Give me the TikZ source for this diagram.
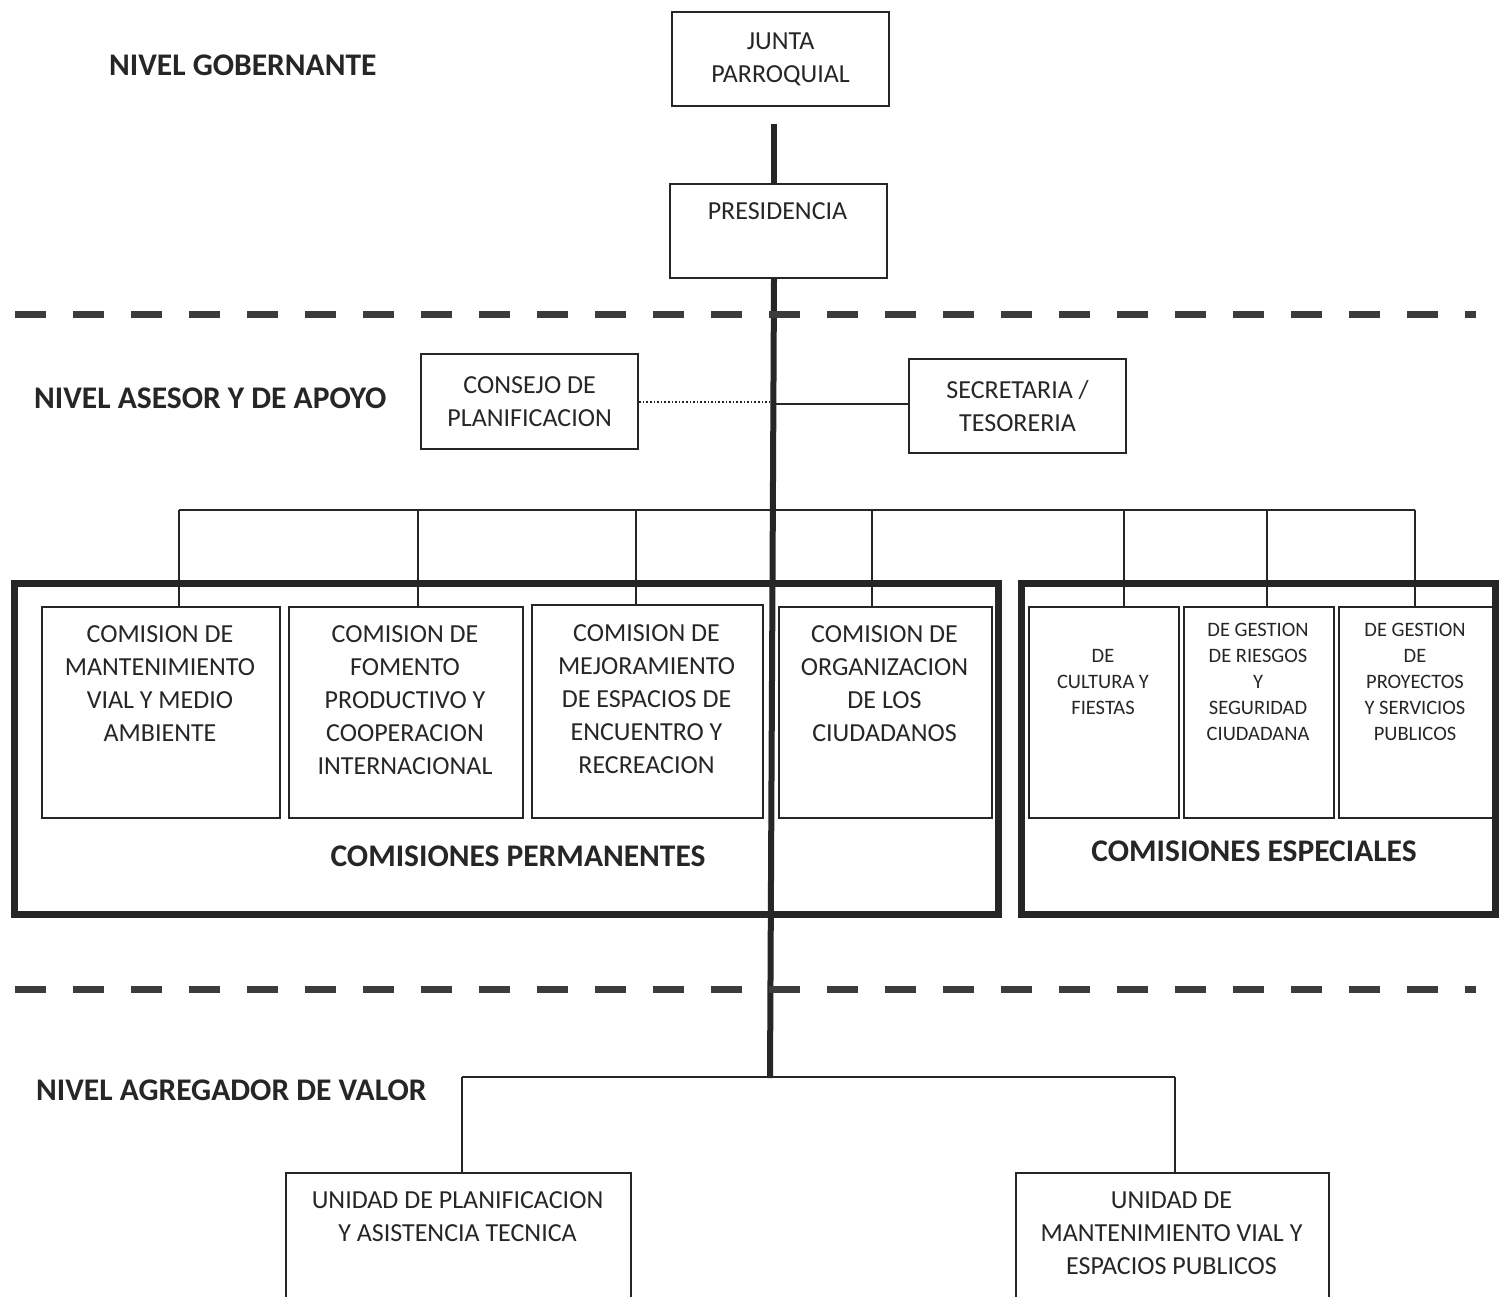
\documentclass[tikz,border=0pt]{standalone}
\usepackage{fontspec}
\setmainfont{Carlito}
\definecolor{ink}{HTML}{262626}
\definecolor{dashc}{HTML}{3C3C3C}
\begin{document}
\begin{tikzpicture}[x=1pt,y=-1pt,
  box/.style={draw=ink, line width=2.2pt, inner sep=0pt, anchor=north west},
  frame/.style={draw=ink, line width=7pt, inner sep=0pt, anchor=north west},
  txt/.style={font=\fontsize{26}{33}\selectfont, align=center, inner sep=0pt, text=ink},
  stxt/.style={font=\fontsize{20.5}{26}\selectfont, align=center, inner sep=0pt, text=ink},
  lvl/.style={font=\fontsize{31.5}{36}\selectfont\bfseries, inner sep=0pt, text=ink, anchor=west},
  thin/.style={draw=ink, line width=2pt},
  mainline/.style={draw=ink, line width=6pt},
  dashline/.style={draw=dashc, line width=7pt, dash pattern=on 31pt off 27pt}]
\useasboundingbox (0,0) rectangle (1503,1297);
\clip (0,0) rectangle (1503,1297);
\fill[white] (0,0) rectangle (1503,1297);

% level labels
\node[lvl] (lg) at (109,65) {NIVEL GOBERNANTE};
\node[lvl] (la) at (34,398) {NIVEL ASESOR Y DE APOYO};
\node[lvl] (lv) at (36,1090) {NIVEL AGREGADOR DE VALOR};

% top boxes
\node[box, minimum width=217pt, minimum height=94pt] (jp) at (671,11) {};
\node[txt] (jpt) at (jp.center) {JUNTA\\PARROQUIAL};
\node[box, minimum width=217pt, minimum height=94pt] (pres) at (669,183) {};
\node[txt, anchor=center] (prest) at (777.5,211) {PRESIDENCIA};

\node[box, minimum width=217pt, minimum height=95pt] (cons) at (420,353) {};
\node[txt] (const) at (cons.center) {CONSEJO DE\\PLANIFICACION};
\node[box, minimum width=217pt, minimum height=94pt] (sec) at (908,358) {};
\node[txt] (sect) at (sec.center) {SECRETARIA /\\TESORERIA};

% frames
\node[frame, minimum width=984pt, minimum height=331pt] (perm) at (11,580) {};
\node[frame, minimum width=474pt, minimum height=331pt] (spec) at (1018,580) {};
\node[font=\fontsize{31.5}{36}\selectfont\bfseries, text=ink, inner sep=0pt] (permt) at (518,856) {COMISIONES PERMANENTES};
\node[font=\fontsize{31.5}{36}\selectfont\bfseries, text=ink, inner sep=0pt] (spect) at (1254,851) {COMISIONES ESPECIALES};

% permanent commissions
\node[box, minimum width=238pt, minimum height=211pt] (c1) at (41,606) {};
\node[box, minimum width=234pt, minimum height=211pt] (c2) at (288,606) {};
\node[box, minimum width=231pt, minimum height=213pt] (c3) at (531,604) {};
\node[box, minimum width=213pt, minimum height=211pt] (c4) at (778,606) {};
\node[txt, anchor=north] (c1t) at (160,625) {COMISION DE\\MANTENIMIENTO\\VIAL Y MEDIO\\AMBIENTE};
\node[txt, anchor=north] (c2t) at (405,625) {COMISION DE\\FOMENTO\\PRODUCTIVO Y\\COOPERACION\\INTERNACIONAL};
\node[txt, anchor=north] (c3t) at (646.5,624) {COMISION DE\\MEJORAMIENTO\\DE ESPACIOS DE\\ENCUENTRO Y\\RECREACION};
\node[txt, anchor=north] (c4t) at (884.5,625) {COMISION DE\\ORGANIZACION\\DE LOS\\CIUDADANOS};

% special commissions
\node[box, minimum width=150pt, minimum height=211pt] (s1) at (1028,606) {};
\node[box, minimum width=150pt, minimum height=211pt] (s2) at (1183,606) {};
\node[box, minimum width=154pt, minimum height=211pt] (s3) at (1338,606) {};
\node[stxt] (s1t) at (1103,682) {DE\\CULTURA Y\\FIESTAS};
\node[stxt] (s2t) at (1258,682) {DE GESTION\\DE RIESGOS\\Y\\SEGURIDAD\\CIUDADANA};
\node[stxt] (s3t) at (1415,682) {DE GESTION\\DE\\PROYECTOS\\Y SERVICIOS\\PUBLICOS};

% bottom units
\node[box, minimum width=345pt, minimum height=150pt] (u1) at (285,1172) {};
\node[box, minimum width=313pt, minimum height=150pt] (u2) at (1015,1172) {};
\node[txt, anchor=north] (u1t) at (457.5,1191.5) {UNIDAD DE PLANIFICACION\\Y ASISTENCIA TECNICA};
\node[txt, anchor=north] (u2t) at (1171.5,1191.5) {UNIDAD DE\\MANTENIMIENTO VIAL Y\\ESPACIOS PUBLICOS};

% coordinates
\coordinate (jtop) at (774,124);
\coordinate (mbot) at (770,1078);
\coordinate (m1) at (771,402);
\coordinate (m2) at (773,404);
\coordinate (b1) at (179,510);
\coordinate (b2) at (418,510);
\coordinate (b3) at (636,510);
\coordinate (b4) at (872,510);
\coordinate (b5) at (1124,510);
\coordinate (b6) at (1267,510);
\coordinate (b7) at (1415,510);
\coordinate (v1) at (462,1077);
\coordinate (v2) at (1175,1077);
\coordinate (d1a) at (15,314);
\coordinate (d1b) at (1476,314);
\coordinate (d2a) at (15,989);
\coordinate (d2b) at (1476,989);

% connectors
\draw[thin] (b1) -- (b7);
\draw[thin] (b1) -- (b1 |- c1.north);
\draw[thin] (b2) -- (b2 |- c2.north);
\draw[thin] (b3) -- (b3 |- c3.north);
\draw[thin] (b4) -- (b4 |- c4.north);
\draw[thin] (b5) -- (b5 |- s1.north);
\draw[thin] (b6) -- (b6 |- s2.north);
\draw[thin] (b7) -- (b7 |- s3.north);
\draw[thin] (v1) -- (v2);
\draw[thin] (v1) -- (v1 |- u1.north);
\draw[thin] (v2) -- (v2 |- u2.north);
\draw[draw=ink, line width=1.6pt, dotted] (cons.east |- m1) -- (m1);
\draw[thin] (m2) -- (sec.west |- m2);

\draw[mainline] (jtop) -- (jtop |- pres.north);
\draw[mainline] (pres.south -| jtop) -- (mbot);

% dashed separators
\draw[dashline] (d1a) -- (d1b);
\draw[dashline] (d2a) -- (d2b);
\end{tikzpicture}
\end{document}
